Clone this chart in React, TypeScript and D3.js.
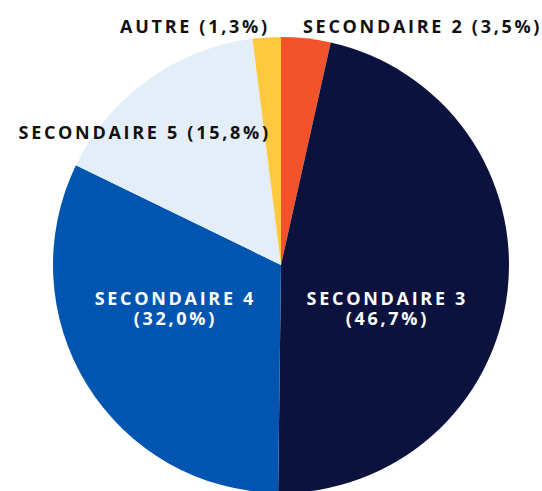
import { useEffect, useRef } from 'react';
import * as d3 from 'd3';

// slices clockwise from 12 o'clock
const categories = ['SECONDAIRE 2', 'SECONDAIRE 3', 'SECONDAIRE 4', 'SECONDAIRE 5', 'AUTRE'];
const shares = [3.5, 46.7, 32.0, 15.8, 2.0];
const pctLabels = ['3,5%', '46,7%', '32,0%', '15,8%', '1,3%'];
const colors = ['#F2532A', '#0B123E', '#0055B0', '#E3EEF9', '#FFC93F'];

const App = () => {
  const ref = useRef<SVGSVGElement>(null);

  useEffect(() => {
    const width = 542;
    const height = 491;
    const cx = 281;
    const cy = 265;
    const radius = 228;
    const ls = 2.7; // letter spacing
    const fs = 18;

    const svg = d3.select(ref.current);
    svg.selectAll('*').remove();

    const data = categories.map((c, i) => ({ cat: c, value: shares[i], pct: pctLabels[i], color: colors[i] }));

    const pie = d3.pie<any>()
      .sort(null)
      .value(d => d.value);

    const arc = d3.arc<any>()
      .innerRadius(0)
      .outerRadius(radius);

    const g = svg.append('g')
      .attr('transform', `translate(${cx}, ${cy})`);

    const arcs = pie(data);

    g.selectAll('path')
      .data(arcs)
      .enter().append('path')
      .attr('d', arc)
      .attr('fill', d => d.data.color);

    const font = "'Open Sans', sans-serif";

    // labels inside the two big slices
    const inner = [
      { i: 1, x: 105, y: 40 },
      { i: 2, x: -107, y: 40 },
    ];
    inner.forEach(({ i, x, y }) => {
      const t = g.append('text')
        .attr('text-anchor', 'middle')
        .attr('font-family', font)
        .attr('font-weight', 700)
        .attr('font-size', fs)
        .attr('letter-spacing', ls)
        .attr('fill', '#ffffff');
      t.append('tspan').attr('x', x + ls / 2).attr('y', y).text(data[i].cat);
      t.append('tspan').attr('x', x + ls / 2).attr('y', y + 20).text(`(${data[i].pct})`);
    });

    // labels outside
    const outer = [
      { i: 0, x: 22, y: -232, anchor: 'start' },
      { i: 4, x: -14 + ls, y: -232, anchor: 'end' },
      { i: 3, x: -13 + ls, y: -126, anchor: 'end' },
    ];
    outer.forEach(({ i, x, y, anchor }) => {
      g.append('text')
        .attr('x', x)
        .attr('y', y)
        .attr('text-anchor', anchor)
        .attr('font-family', font)
        .attr('font-weight', 700)
        .attr('font-size', fs)
        .attr('letter-spacing', ls)
        .attr('fill', '#111111')
        .text(`${data[i].cat} (${data[i].pct})`);
    });

    svg.attr('width', width).attr('height', height);
  }, []);

  return (
    <svg ref={ref} width={542} height={491} style={{ position: 'absolute', left: 0, top: 0, background: '#ffffff' }} />
  );
};

export default App;
